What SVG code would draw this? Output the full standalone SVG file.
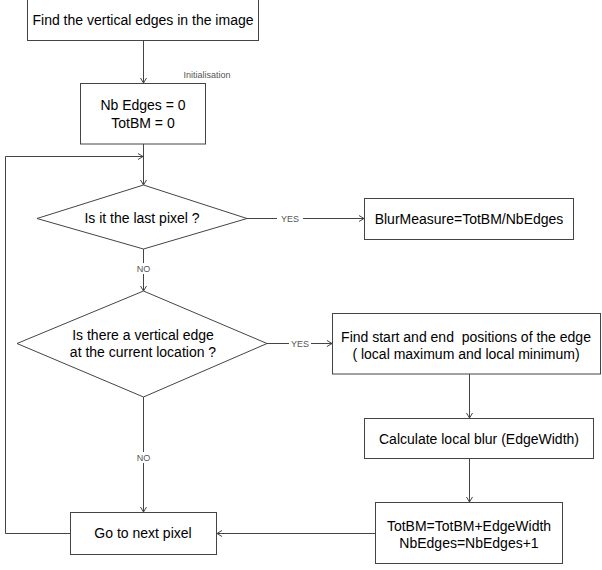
<svg xmlns="http://www.w3.org/2000/svg" width="602" height="570" viewBox="0 0 602 570">
<defs>
<marker id="arr" markerWidth="8" markerHeight="8" refX="6" refY="3.5" orient="auto" markerUnits="userSpaceOnUse">
<path d="M1,0.5 L6,3.5 L1,6.5" fill="none" stroke="#444" stroke-width="1"/>
</marker>
</defs>
<style>
.box{fill:#fff;stroke:#444;stroke-width:1}
.t{font-family:"Liberation Sans",Arial,sans-serif;font-size:14px;fill:#000;text-anchor:middle;dominant-baseline:central;white-space:pre}
.lbl{font-family:"Liberation Sans",Arial,sans-serif;font-size:9px;fill:#555;text-anchor:middle;dominant-baseline:central}
.c{fill:none;stroke:#444;stroke-width:1}
.bg{fill:#fff}
</style>
<rect width="602" height="570" fill="#fff"/>
<g id="connectors">
<path class="c" d="M143.5,40 V83" marker-end="url(#arr)"/>
<path class="c" d="M143.5,144 V185" marker-end="url(#arr)"/>
<path class="c" d="M70,533.5 H5.5 V156.5 H143" marker-end="url(#arr)"/>
<path class="c" d="M247,218.5 H364" marker-end="url(#arr)"/>
<path class="c" d="M143.5,249 V291" marker-end="url(#arr)"/>
<path class="c" d="M267,343.5 H332" marker-end="url(#arr)"/>
<path class="c" d="M143.5,397 V512" marker-end="url(#arr)"/>
<path class="c" d="M469.5,374 V418" marker-end="url(#arr)"/>
<path class="c" d="M469.5,458 V502" marker-end="url(#arr)"/>
<path class="c" d="M375,533.5 H217" marker-end="url(#arr)"/>
<rect class="bg" x="277" y="213" width="26" height="11"/>
<text class="lbl" x="290" y="218.5">YES</text>
<rect class="bg" x="289" y="338" width="22" height="11"/>
<text class="lbl" x="300" y="343.5">YES</text>
<rect class="bg" x="136" y="263" width="16" height="11"/>
<text class="lbl" x="143.5" y="268.5">NO</text>
<rect class="bg" x="136" y="452" width="16" height="11"/>
<text class="lbl" x="143.5" y="457.5">NO</text>
<text class="lbl" x="207" y="74.5">Initialisation</text>
</g>
<g id="find-edges">
<rect class="box" x="27.5" y="-1" width="231" height="41.5"/>
<text class="t" x="143" y="20">Find the vertical edges in the image</text>
</g>
<g id="init">
<rect class="box" x="80.5" y="83.5" width="125" height="60.5"/>
<text class="t" x="143" y="105">Nb Edges = 0</text>
<text class="t" x="143" y="122.5">TotBM = 0</text>
</g>
<g id="last-pixel">
<polygon class="box" points="37,218.5 143.5,185 247,218.5 143.5,249"/>
<text class="t" x="142" y="218">Is it the last pixel ?</text>
</g>
<g id="blur-measure">
<rect class="box" x="364.5" y="198.5" width="209" height="41"/>
<text class="t" x="469" y="218.5">BlurMeasure=TotBM/NbEdges</text>
</g>
<g id="vertical-edge">
<polygon class="box" points="17,343.5 143.5,291 267,343.5 143.5,397"/>
<text class="t" x="143" y="335">Is there a vertical edge</text>
<text class="t" x="143" y="352">at the current location ?</text>
</g>
<g id="find-positions">
<rect class="box" x="332.5" y="313.5" width="268" height="60.5"/>
<text class="t" x="466" y="337">Find start and end  positions of the edge</text>
<text class="t" x="466" y="354">( local maximum and local minimum)</text>
</g>
<g id="local-blur">
<rect class="box" x="364.5" y="418.5" width="229" height="40"/>
<text class="t" x="479" y="439">Calculate local blur (EdgeWidth)</text>
</g>
<g id="update">
<rect class="box" x="375.5" y="502.5" width="187" height="61"/>
<text class="t" x="469" y="526">TotBM=TotBM+EdgeWidth</text>
<text class="t" x="469" y="542.5">NbEdges=NbEdges+1</text>
</g>
<g id="next-pixel">
<rect class="box" x="70.5" y="512.5" width="146" height="42"/>
<text class="t" x="143" y="533">Go to next pixel</text>
</g>
</svg>
